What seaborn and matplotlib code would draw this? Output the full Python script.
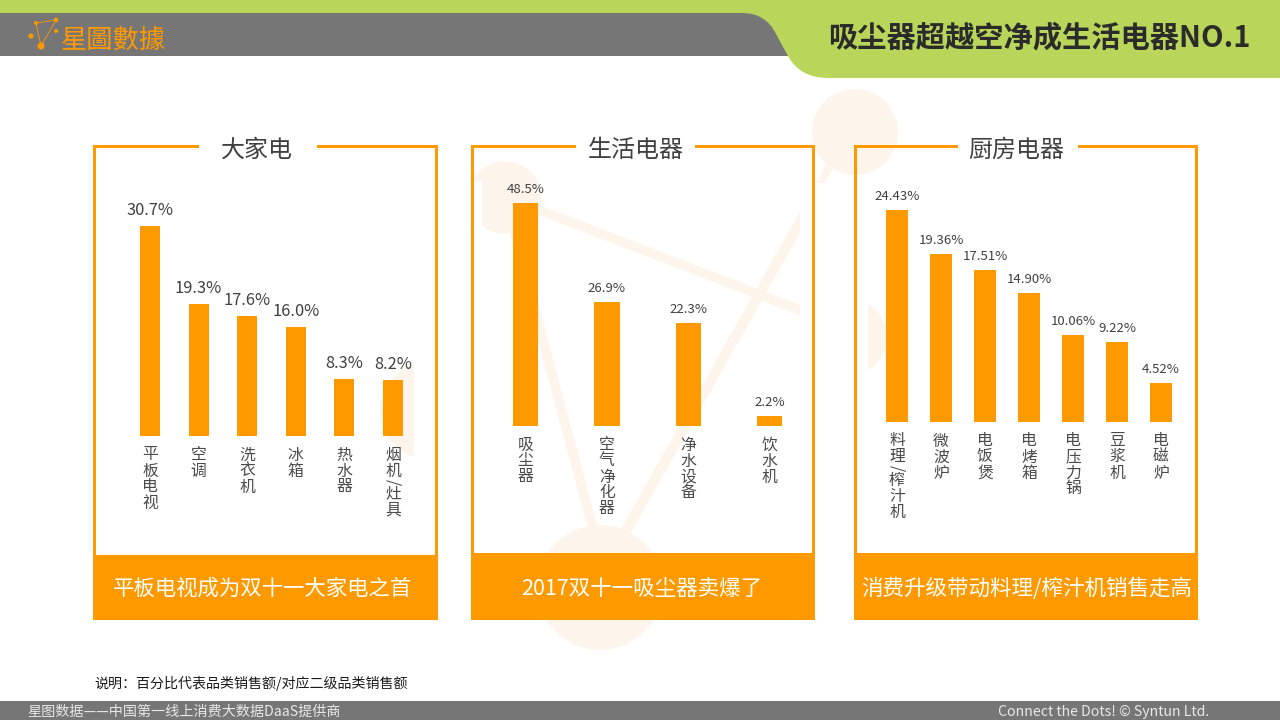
import seaborn as sns
import matplotlib.pyplot as plt
from matplotlib.patches import Circle, Rectangle, PathPatch
from matplotlib.path import Path

sns.set_theme(style="white")
plt.rcParams['font.family'] = ['Noto Sans CJK SC', 'DejaVu Sans']
plt.rcParams['axes.unicode_minus'] = False

# data
big_cats = ["平板电视", "空调", "洗衣机", "冰箱", "热水器", "烟机/灶具"]
big_vals = [30.7, 19.3, 17.6, 16.0, 8.3, 8.2]
life_cats = ["吸尘器", "空气净化器", "净水设备", "饮水机"]
life_vals = [48.5, 26.9, 22.3, 2.2]
kitchen_cats = ["料理/榨汁机", "微波炉", "电饭煲", "电烤箱", "电压力锅", "豆浆机", "电磁炉"]
kitchen_vals = [24.43, 19.36, 17.51, 14.90, 10.06, 9.22, 4.52]

ORANGE = "#FF9900"
GREEN = "#B9D65A"
GREY = "#767676"
PALE = "#FDF5EB"
W, H = 1280, 720

fig = plt.figure(figsize=(12.8, 7.2), dpi=100, facecolor="white")

# background layer in pixel coords
bg = fig.add_axes([0, 0, 1, 1])
bg.set_xlim(0, W)
bg.set_ylim(H, 0)
bg.axis("off")

# header
bg.add_patch(Rectangle((0, 13), 800, 43, color=GREY, lw=0))
verts = [(0, 0), (1280, 0), (1280, 78), (828, 78), (800, 78), (788, 56),
         (776, 34), (766, 13), (742, 13), (0, 13), (0, 0)]
codes = [Path.MOVETO, Path.LINETO, Path.LINETO, Path.LINETO, Path.CURVE3, Path.CURVE3,
         Path.LINETO, Path.CURVE3, Path.CURVE3, Path.LINETO, Path.CLOSEPOLY]
bg.add_patch(PathPatch(Path(verts, codes), facecolor=GREEN, lw=0))

# logo
for a, b in [((36, 23), (56, 20)), ((36, 23), (41, 46)), ((56, 20), (41, 46))]:
    bg.plot([a[0], b[0]], [a[1], b[1]], color=ORANGE, lw=0.6)
for x, y, r in [(36, 23, 2), (56, 20, 2.3), (56, 31, 2), (31, 36, 2.6), (41, 46, 3.5)]:
    bg.add_patch(Circle((x, y), r, color=ORANGE, lw=0))
bg.text(61, 40, "星圖數據", color=ORANGE, fontsize=18.9, va="center", ha="left")
bg.text(1039, 37, "吸尘器超越空净成生活电器NO.1", color="#2B2B2B", fontsize=21.1,
        fontweight="bold", va="center", ha="center")

# pale watermark behind the panels
clip_mid = Rectangle((474, 90), 326, 570, transform=bg.transData)
for patch in [Circle((505, 197.5), 36.5, color=PALE, lw=0),
              Circle((600, 587.5), 62.5, color=PALE, lw=0)]:
    bg.add_patch(patch)
    patch.set_clip_path(clip_mid)
for a, b, lw in [((505, 197), (820, 317.7), 6.8), ((820, 186.5), (600, 577), 7.5), ((505, 197), (600, 555), 7.0)]:
    line, = bg.plot([a[0], b[0]], [a[1], b[1]], color=PALE, lw=lw, solid_capstyle="butt", zorder=0.5)
    line.set_clip_path(clip_mid)
bg.add_patch(Rectangle((474, 181), 8, 45, color="white", lw=0))
bg.add_patch(Circle((855, 132), 43, color=PALE, lw=0))
bg.add_patch(PathPatch(Path([(827, 162), (833, 169), (825, 183), (817, 183), (827, 162)]),
                       facecolor=PALE, lw=0))
left_blob = Circle((428, 411), 48, color=PALE, lw=0)
bg.add_patch(left_blob)
left_blob.set_clip_path(Rectangle((370, 350), 44, 120, transform=bg.transData))
right_blob = Circle((849, 337), 38, color=PALE, lw=0)
bg.add_patch(right_blob)
right_blob.set_clip_path(Rectangle((868, 290), 30, 100, transform=bg.transData))


def panel(x0, x1, block_top, gap0, gap1, title, title_x, caption, caption_x, caption_size):
    c = ORANGE
    t = 3
    bg.add_patch(Rectangle((x0, 145), t, block_top - 145, color=c, lw=0))
    bg.add_patch(Rectangle((x1 - t, 145), t, block_top - 145, color=c, lw=0))
    bg.add_patch(Rectangle((x0, 145), gap0 - x0, t, color=c, lw=0))
    bg.add_patch(Rectangle((gap1, 145), x1 - gap1, t, color=c, lw=0))
    bg.add_patch(Rectangle((x0, block_top), x1 - x0, 620 - block_top, color=c, lw=0))
    bg.text(title_x, 150, title, color="#404040", fontsize=17.3, ha="center", va="center")
    bg.text(caption_x, 589, caption, color="white", fontsize=caption_size, ha="center", va="center")


panel(93, 438, 555, 199, 317, "大家电", 257, "平板电视成为双十一大家电之首", 263, 15.4)
panel(471, 815, 553, 576, 695, "生活电器", 636, "2017双十一吸尘器卖爆了", 641.5, 15.5)
panel(854, 1198, 553, 958, 1078, "厨房电器", 1016, "消费升级带动料理/榨汁机销售走高", 1026.5, 15.5)


def bars(cats, vals, first_x, step, base_y, px_per_unit, bar_w, fmt, label_size):
    left = first_x - step / 2
    width = step * len(cats)
    top_y = 150
    ax = fig.add_axes([left / W, 1 - base_y / H, width / W, (base_y - top_y) / H])
    ax.patch.set_alpha(0)
    sns.barplot(x=cats, y=vals, ax=ax, color=ORANGE, saturation=1, width=bar_w, linewidth=0)
    ax.set_xlim(-0.5, len(cats) - 0.5)
    ax.set_ylim(0, (base_y - top_y) / px_per_unit)
    ax.set_yticks([])
    ax.set_xticks(range(len(cats)))
    ax.set_xticklabels([])
    ax.tick_params(axis="x", length=0)
    sns.despine(ax=ax, left=True, bottom=True)
    ax.bar_label(ax.containers[0], fmt=fmt, padding=5, fontsize=label_size, color="#404040")
    # vertical category names, one glyph per row
    for i, cat in enumerate(cats):
        offset = 11.0
        for ch in cat:
            slash = ch == "/"
            step_y = 7 if slash else 16
            ax.annotate(ch, xy=(i, 0), xycoords=ax.get_xaxis_transform(),
                        xytext=(0, -(offset + step_y / 2)), textcoords="offset pixels",
                        ha="center", va="center", fontsize=11.4, color="#4A4A4A",
                        rotation=-90 if slash else 0, annotation_clip=False)
            offset += step_y
    return ax


bars(big_cats, big_vals, 150, 48.6, 436, 6.84, 0.41, "%.1f%%", 11.8)
bars(life_cats, life_vals, 525.5, 81.4, 426, 4.6, 0.31, "%.1f%%", 9.5)
bars(kitchen_cats, kitchen_vals, 897, 44, 422, 8.665, 0.5, "%.2f%%", 9.5)

# footer
bg.text(94, 683, "说明：百分比代表品类销售额/对应二级品类销售额", color="#1A1A1A", fontsize=10.1,
        ha="left", va="center")
bg.add_patch(Rectangle((0, 701), W, 19, color=GREY, lw=0))
bg.text(27, 712, "星图数据——中国第一线上消费大数据DaaS提供商", color="#E8E8E8", fontsize=10.15,
        ha="left", va="center")
bg.text(1209, 712, "Connect the Dots! © Syntun Ltd.", color="#E8E8E8", fontsize=10.2,
        ha="right", va="center")

plt.savefig("out.png", dpi=100)
